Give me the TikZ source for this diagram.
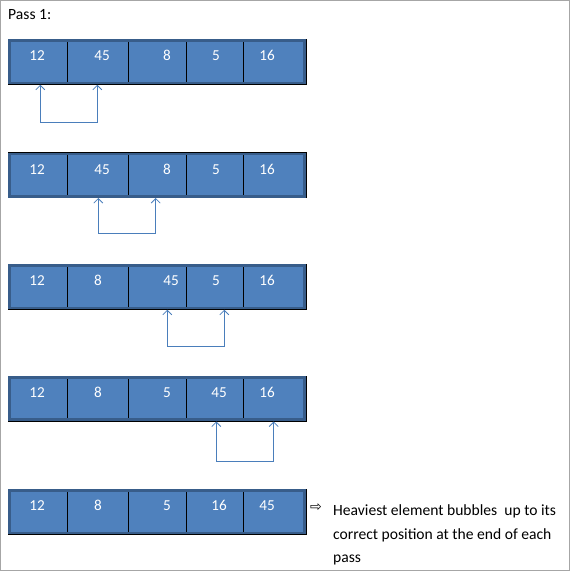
\documentclass[tikz,border=0pt]{standalone}
\usepackage{fontspec}
\setmainfont{Carlito}
\newfontfamily\symfont{DejaVu Sans}
\usetikzlibrary{arrows.meta}
\definecolor{cellblue}{HTML}{4F81BD}
\definecolor{edgeblue}{HTML}{385D8A}
\definecolor{linkblue}{HTML}{4A7EBB}
\definecolor{framegray}{HTML}{A6A6A6}
\tikzset{
  cell/.style={draw=black, line width=0.7pt, fill=cellblue, inner sep=0pt, minimum height=45pt},
  rowbox/.style={draw=edgeblue, line width=2.6pt, inner sep=0pt, minimum width=294.9pt, minimum height=42.3pt},
  num/.style={text=white, font=\fontsize{15.2}{16}\selectfont, inner sep=0pt},
  link/.style={draw=linkblue, line width=0.8pt, {Straight Barb[length=4.5pt,width=9pt]}-{Straight Barb[length=4.5pt,width=9pt]}},
  txt/.style={font=\fontsize{15.6}{23.5}\selectfont, inner sep=0pt, text=black}
}
\newcommand{\arrrow}[3]{%
  \foreach \i/\a/\b in {1/8.3/67.7,2/67.7/128.3,3/128.3/186.3,4/186.3/243.7,5/243.7/306}
    \node[cell, minimum width=\b pt-\a pt] (#1c\i) at ({(\a+\b)/2},#2+22.5) {};
  \node[rowbox] (#1) at (157.15,#2+22.5) {};
  \foreach \t/\x [count=\k] in {#3}
    \node[num] (#1n\k) at (\x,#2+16.5) {\t};
}
\begin{document}
\begin{tikzpicture}[x=1pt,y=-1pt]
\useasboundingbox (0,0) rectangle (571,572);
\draw[framegray, line width=1pt] (0.5,0.5) rectangle (569.5,570);
\node[txt, anchor=base west] (title) at (8,20) {Pass 1:};

\arrrow{r1}{39.3}{12/37,45/102,8/167,5/216,16/267}
\arrrow{r2}{152.7}{12/37,45/102,8/167,5/216,16/267}
\arrrow{r3}{264.3}{12/37,8/98,45/171,5/216,16/267}
\arrrow{r4}{376}{12/37,8/98,5/167,45/219,16/267}
\arrrow{r5}{489.3}{12/37,8/98,5/167,16/219,45/267}

\coordinate (a1) at (40.3,84.8);  \coordinate (b1) at (97.3,84.8);
\coordinate (a2) at (98.3,198);   \coordinate (b2) at (155.7,198);
\coordinate (a3) at (167.3,309.8);\coordinate (b3) at (224.3,309.8);
\coordinate (a4) at (216.3,421.5);\coordinate (b4) at (273.7,421.5);
\draw[link] (a1) -- ++(0,37.5) -| (b1);
\draw[link] (a2) -- ++(0,35.3) -| (b2);
\draw[link] (a3) -- ++(0,36.2) -| (b3);
\draw[link] (a4) -- ++(0,39.5) -| (b4);

\node[inner sep=0pt, font=\symfont\fontsize{14}{14}\selectfont] (sym) at (316,508) {⇨};
\node[txt, anchor=north west, align=left] (note) at (333,504.5)
  {Heaviest element bubbles\ \ up to its\\correct position at the end of each\\pass};
\end{tikzpicture}
\end{document}
